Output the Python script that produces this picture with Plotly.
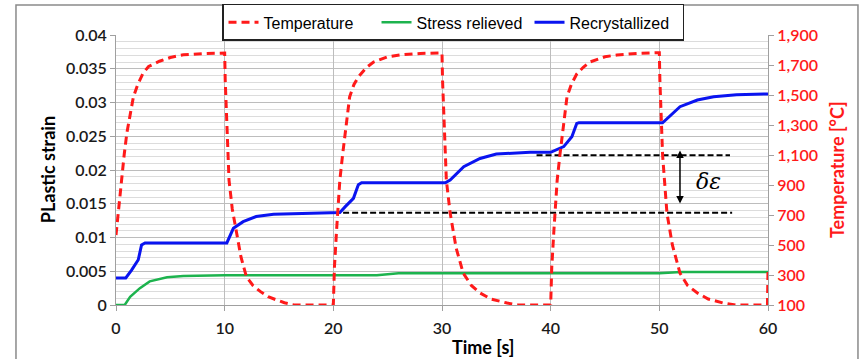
import plotly.graph_objects as go

# ---- data ----
temp_t = [0, 0.25, 0.5, 0.75, 1.0, 1.3, 1.6, 2.0, 2.5, 3.0, 4.0, 5.0, 6.2, 8.0, 10.0,
          10.05, 10.2, 10.4, 10.7, 11.1, 11.5, 12.0, 12.6, 13.3, 14.0, 14.8, 15.5, 16.3, 17.0, 20.0,
          20.1, 20.3, 20.6, 20.85, 21.1, 21.5, 21.9, 22.3, 23.0, 23.7, 25.0, 26.1, 28.0, 30.0,
          30.05, 30.2, 30.4, 30.75, 31.3, 31.95, 32.7, 33.5, 34.5, 36.0, 37.0, 40.0,
          40.1, 40.3, 40.6, 40.85, 41.1, 41.5, 41.9, 42.4, 43.0, 43.6, 45.0, 46.1, 48.0, 50.0,
          50.05, 50.3, 50.7, 51.2, 51.9, 52.6, 53.5, 54.5, 55.9, 57.0, 59.95, 60.0]
temp_c = [566, 760, 933, 1100, 1247, 1380, 1487, 1570, 1647, 1690, 1725, 1750, 1768, 1776, 1780,
          1600, 1250, 933, 740, 566, 420, 289, 230, 189, 155, 133, 115, 102, 100, 100,
          350, 600, 933, 1100, 1247, 1487, 1570, 1620, 1680, 1720, 1755, 1767, 1777, 1780,
          1600, 1250, 933, 713, 480, 313, 230, 180, 140, 113, 100, 100,
          350, 600, 933, 1100, 1247, 1487, 1570, 1640, 1685, 1720, 1755, 1767, 1777, 1782,
          1600, 1100, 713, 500, 313, 230, 180, 140, 113, 100, 100, 330]

stress_t = [0, 0.8, 1.3, 2.2, 3.1, 4.7, 6.2, 10, 20, 24, 26, 40, 50, 52, 60]
stress_e = [0, 0, 0.0012, 0.0025, 0.0035, 0.0041, 0.0043, 0.0044, 0.0044, 0.0044, 0.0047,
            0.0047, 0.0047, 0.0049, 0.0049]

recr_t = [0, 0.9, 1.45, 2.05, 2.35, 2.67, 10.2, 10.8, 11.7, 12.9, 14.5, 20.0, 20.6, 21.1, 21.85,
          22.3, 22.6, 30.3, 30.75, 32.0, 33.5, 35.0, 38.1, 40.0, 41.2, 41.95, 42.4, 42.6,
          50.3, 51.9, 53.5, 55.0, 57.1, 60.0]
recr_e = [0.004, 0.004, 0.0052, 0.0067, 0.0089, 0.0092, 0.0092, 0.01136, 0.01235, 0.0131,
          0.01343, 0.01358, 0.0137, 0.01457, 0.0158, 0.0178, 0.0181, 0.0181, 0.0185, 0.0205,
          0.0217, 0.02237, 0.02262, 0.02262, 0.02346, 0.02494, 0.0269, 0.027, 0.027, 0.02938,
          0.03037, 0.03086, 0.03116, 0.03126]

ref_low_t = [20.9, 56.7]
ref_low_e = [0.01367, 0.01367]
ref_high_t = [38.7, 56.5]
ref_high_e = [0.0222, 0.0222]

x_ticks = [0, 10, 20, 30, 40, 50, 60]

RED = "#ff1a1a"
GREEN = "#1db34e"
BLUE = "#0a14f0"
GRID = "#bdbdbd"
MINOR = "#dcdcdc"
FONT = "Lato"
TICKFONT = dict(family=FONT, size=16, weight=600, color="#1a1a1a")

fig = go.Figure()

fig.add_trace(go.Scatter(x=stress_t, y=stress_e, name="Stress relieved", mode="lines",
                         line=dict(color=GREEN, width=2.5), legendrank=2))
fig.add_trace(go.Scatter(x=recr_t, y=recr_e, name="Recrystallized", mode="lines",
                         line=dict(color=BLUE, width=3), legendrank=3))
fig.add_trace(go.Scatter(x=ref_low_t, y=ref_low_e, mode="lines", showlegend=False,
                         line=dict(color="black", width=2, dash="6px,3px")))
fig.add_trace(go.Scatter(x=ref_high_t, y=ref_high_e, mode="lines", showlegend=False,
                         line=dict(color="black", width=2, dash="6px,3px")))
fig.add_trace(go.Scatter(x=temp_t, y=temp_c, name="Temperature", mode="lines", yaxis="y2",
                         line=dict(color=RED, width=3, dash="8px,5px"), legendrank=1))

fig.update_layout(
    width=860, height=359,
    margin=dict(l=116, r=92, t=35, b=54, autoexpand=False),
    paper_bgcolor="white", plot_bgcolor="white",
    font=dict(family=FONT, size=15, color="#1a1a1a"),
    showlegend=True,
    legend=dict(orientation="h", x=0.1626, y=1.115, xanchor="left", yanchor="top",
                bgcolor="white", bordercolor="#222", borderwidth=1.5,
                font=dict(family="Liberation Sans, Arial", size=16, color="black"),
                itemwidth=30, tracegroupgap=0, entrywidth=108, entrywidthmode="pixels"),
    xaxis=dict(range=[0, 60], tickvals=x_ticks, showgrid=True, gridcolor=GRID, gridwidth=1,
               showline=True, linecolor="#a0a0a0", linewidth=1, ticks="outside", ticklen=5,
               tickcolor="#a0a0a0", zeroline=False, tickfont=TICKFONT, ticklabelstandoff=4),
    yaxis=dict(range=[0, 0.04], dtick=0.005, tickformat="~g", showgrid=True, gridcolor=GRID,
               gridwidth=1, showline=True, linecolor="#a0a0a0", linewidth=1, ticks="outside",
               ticklen=5, tickcolor="#a0a0a0", zeroline=False, tickfont=TICKFONT,
               minor=dict(dtick=0.001, showgrid=True, gridcolor=MINOR, gridwidth=1)),
    yaxis2=dict(range=[100, 1900], tickvals=[100, 300, 500, 700, 900, 1100, 1300, 1500, 1700, 1900],
                tickformat=",d", overlaying="y", side="right", showgrid=False, zeroline=False,
                showline=True, linecolor="#a0a0a0", linewidth=1, ticks="outside", ticklen=5,
                tickcolor="#a0a0a0", tickfont=dict(family=FONT, size=16, weight=600, color=RED)),
    shapes=[dict(type="rect", xref="paper", yref="paper", x0=-0.1534, x1=1.138, y0=-0.25, y1=1.111,
                 line=dict(color="#8a8a8a", width=1.5), layer="below")],
    annotations=[
        dict(text="<b>PLastic strain</b>", xref="paper", yref="paper", x=-0.104, y=0.5,
             xanchor="center", yanchor="middle",
             textangle=-90, showarrow=False, font=dict(size=18, color="black", family=FONT)),
        dict(text="<b>Temperature [°C]</b>", xref="paper", yref="paper", x=1.106, y=0.5,
             xanchor="center", yanchor="middle",
             textangle=-90, showarrow=False, font=dict(size=18, color=RED, family=FONT)),
        dict(text="<b>Time [s]</b>", xref="paper", yref="paper", x=0.563, y=-0.156,
             xanchor="center", yanchor="middle",
             showarrow=False, font=dict(size=18, color="black", family=FONT)),
        dict(x=51.9, y=0.0229, ax=51.9, ay=0.0148, xref="x", yref="y", axref="x", ayref="y",
             showarrow=True, arrowhead=2, arrowside="end+start", arrowwidth=1.5, arrowsize=1,
             arrowcolor="black", text=""),
        dict(text="<i>δε</i>", x=54.5, y=0.0183, xref="x", yref="y", showarrow=False,
             font=dict(size=22, color="black", family="DejaVu Serif")),
    ],
)

fig.write_html("out.html")
